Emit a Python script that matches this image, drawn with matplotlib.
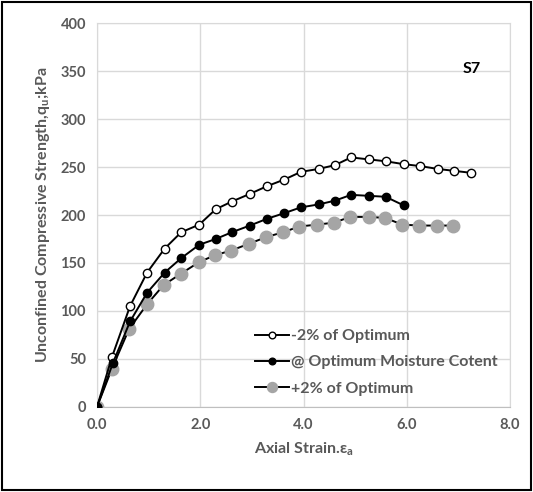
import numpy as np
import matplotlib.pyplot as plt
from matplotlib.patches import Rectangle

# Data
x_dry = [0, 0.29, 0.64, 0.97, 1.31, 1.63, 1.98, 2.30, 2.61, 2.96, 3.29, 3.63,
         3.95, 4.29, 4.61, 4.92, 5.26, 5.59, 5.94, 6.26, 6.60, 6.92, 7.24]
y_dry = [0, 52, 105, 140, 165, 182, 190, 206, 214, 222, 230, 237,
         245, 248, 252, 260, 258, 256, 253, 251, 248, 246, 244]

x_opt = [0, 0.31, 0.64, 0.97, 1.31, 1.63, 1.98, 2.30, 2.61, 2.96, 3.29, 3.63,
         3.95, 4.29, 4.61, 4.92, 5.26, 5.59, 5.94]
y_opt = [0, 46, 89, 119, 140, 155, 169, 175, 182, 189, 196, 202,
         208, 211, 215, 221, 220, 219, 210]

x_wet = [0, 0.29, 0.62, 0.97, 1.29, 1.63, 1.98, 2.28, 2.60, 2.94, 3.28, 3.60,
         3.92, 4.26, 4.59, 4.90, 5.26, 5.58, 5.91, 6.24, 6.58, 6.90]
y_wet = [0, 40, 81, 107, 127, 139, 151, 158, 163, 170, 177, 182,
         188, 190, 192, 198, 198, 197, 190, 189, 189, 189]

labels = ["-2% of Optimum", "@ Optimum Moisture Cotent", "+2% of Optimum"]
x_ticks = [0, 2, 4, 6, 8]
y_ticks = list(range(0, 401, 50))

plt.rcParams['font.family'] = ['Lato', 'DejaVu Sans']
txt = '#595959'

fig = plt.figure(figsize=(5.33, 4.92), dpi=100)
ax = fig.add_axes([0.182, 0.173, 0.775, 0.780])

ax.plot(x_dry, y_dry, '-o', color='black', lw=1.4, ms=6,
        mfc='white', mec='black', mew=1.0, label=labels[0], zorder=3)
ax.plot(x_opt, y_opt, '-o', color='black', lw=1.4, ms=6,
        mfc='black', mec='black', label=labels[1], zorder=3)
ax.plot(x_wet, y_wet, '-o', color='black', lw=1.4, ms=9,
        mfc='#a5a5a5', mec='#a5a5a5', label=labels[2], zorder=2)

ax.set_xlim(0, 8)
ax.set_ylim(0, 400)
ax.set_xticks(x_ticks)
ax.set_xticklabels([f"{v:.1f}" for v in x_ticks])
ax.set_yticks(y_ticks)
ax.grid(color='#d9d9d9', lw=1)
ax.set_axisbelow(True)
ax.tick_params(length=0, labelsize=10.5, labelcolor=txt, pad=8)
for lab in ax.get_xticklabels() + ax.get_yticklabels():
    lab.set_fontweight('bold')
for s in ax.spines.values():
    s.set_color('#d9d9d9')
ax.spines['bottom'].set_color('#bfbfbf')

ax.set_xlabel("Axial Strain.ε$_\\mathregular{a}$", fontsize=11.5,
              fontweight='bold', color=txt, labelpad=6)
ax.set_ylabel("Unconfined Compressive Strength,q$_\\mathregular{u}$;kPa",
              fontsize=11.5, fontweight='bold', color=txt, labelpad=6)

ax.text(0.93, 0.87, "S7", transform=ax.transAxes, fontsize=11.5,
        fontweight='bold', color='black', ha='right')

leg = ax.legend(loc='lower right', bbox_to_anchor=(1.005, -0.008), frameon=False,
                fontsize=11.5, handlelength=2.1, handletextpad=0.15,
                labelspacing=0.75, markerscale=0.8)
for t in leg.get_texts():
    t.set_color(txt)
    t.set_fontweight('bold')

fig.patches.append(Rectangle((0.004, 0.004), 0.992, 0.992, transform=fig.transFigure,
                             fill=False, ec='black', lw=1.5))

fig.savefig('out.png', dpi=100)
